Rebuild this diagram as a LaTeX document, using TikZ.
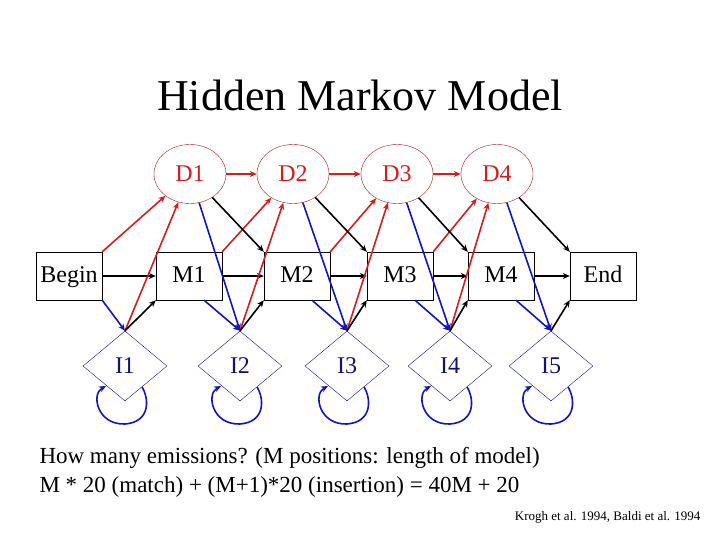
\documentclass[tikz,border=0pt]{standalone}
\usepackage{fontspec}
\setmainfont{Liberation Serif}
\usetikzlibrary{shapes.geometric,arrows.meta}
\definecolor{dred}{RGB}{210,30,30}
\definecolor{dblue}{RGB}{20,20,190}
\definecolor{nblue}{RGB}{20,20,110}
\begin{document}
\begin{tikzpicture}[x=1pt,y=-1pt,
  box/.style={draw,minimum width=66pt,minimum height=48pt,inner sep=0pt,text height=17pt,text depth=5pt,font=\fontsize{24}{28}\selectfont},
  del/.style={draw=dred!80!black,ellipse,minimum width=72pt,minimum height=59pt,inner sep=0pt,text=dred,font=\fontsize{24}{28}\selectfont},
  ins/.style={draw=nblue,diamond,minimum width=84pt,minimum height=70pt,inner sep=0pt,text=nblue,font=\fontsize{24}{28}\selectfont},
  a/.style={line width=1.6pt,-{Stealth[length=7pt,width=6pt]}},
  k/.style={a,black}, r/.style={a,dred}, b/.style={a,dblue}]
\useasboundingbox (0,0) rectangle (720,540);
\node[font=\fontsize{44}{48}\selectfont] (t) at (360,95) {Hidden Markov Model};
\node[box] (B) at (69,276) {Begin};
\node[box] (M1) at (189,276) {M1};
\node[box] (M2) at (297,276) {M2};
\node[box] (M3) at (400,276) {M3};
\node[box] (M4) at (501,276) {M4};
\node[box] (E) at (603,276) {End};
\node[del] (D1) at (190,174) {D1};
\node[del] (D2) at (293,174) {D2};
\node[del] (D3) at (397,174) {D3};
\node[del] (D4) at (497,174) {D4};
\node[ins] (I1) at (125,366) {I1};
\node[ins] (I2) at (240,366) {I2};
\node[ins] (I3) at (347,366) {I3};
\node[ins] (I4) at (450,366) {I4};
\node[ins] (I5) at (551,366) {I5};
% Begin
\draw[k] (B) -- (M1);
\draw[r] (B.north east) -- (D1);
\draw[b] (B.south east) -- (I1.north);
% chain
\foreach \i/\j in {1/2,2/3,3/4}{
  \draw[k] (M\i) -- (M\j);
  \draw[r] (M\i.north east) -- (D\j);
  \draw[b] ([xshift=15pt]M\i.south) -- (I\j.north);
  \draw[r] (D\i) -- (D\j);
  \draw[k] (D\i) -- (M\j.north west);
  \draw[b] (D\i) -- (I\j.north);
}
\draw[k] (M4) -- (E);
\draw[b] ([xshift=15pt]M4.south) -- (I5.north);
\draw[k] (D4) -- (E.north west);
\draw[b] (D4) -- (I5.north);
\draw[k] (I5.north) -- (E.south west);
\foreach \i in {1,2,3,4}{
  \draw[r] (I\i.north) -- (D\i);
  \draw[k] (I\i.north) -- (M\i.south west);
}
\foreach \i in {1,2,3,4,5}{
  \draw[a,dblue] ([shift={(17,21)}]I\i.center)
     .. controls ([shift={(24,32)}]I\i.center) and ([shift={(26,56)}]I\i.center) .. ([shift={(0,58)}]I\i.center)
     .. controls ([shift={(-28,59)}]I\i.center) and ([shift={(-34,28)}]I\i.center) .. ([shift={(-19,20)}]I\i.center);
}
\node[anchor=west,font=\fontsize{23}{27}\selectfont] (q1) at (36,458) {How many emissions? (M positions: length of model)};
\node[anchor=west,font=\fontsize{23}{27}\selectfont] (q2) at (36,487) {M * 20 (match) + (M+1)*20 (insertion) = 40M + 20};
\node[anchor=east,font=\fontsize{13}{15}\selectfont] (c) at (704,517) {Krogh et al. 1994, Baldi et al. 1994};
\end{tikzpicture}
\end{document}
